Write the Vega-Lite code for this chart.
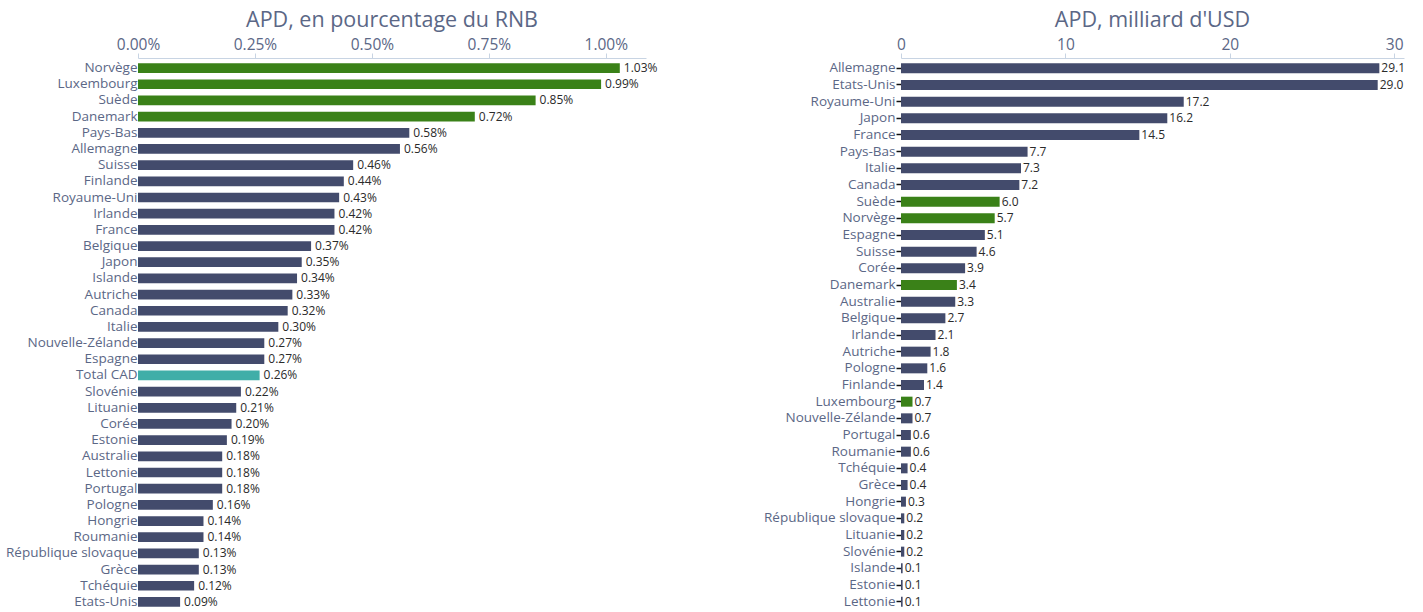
{
  "$schema": "https://vega.github.io/schema/vega-lite/v6.json",
  "padding": {"left": 5, "top": 9, "right": 5, "bottom": 0},
  "background": "white",
  "bounds": "flush",
  "spacing": 255,
  "config": {
    "font": "Open Sans",
    "view": {"stroke": null},
    "axis": {"labelFont": "Open Sans", "grid": false, "title": null},
    "title": {"font": "Open Sans", "fontSize": 21.5, "fontWeight": "normal", "color": "#5b6786", "anchor": "middle"}
  },
  "datasets": {
    "pct": [
      {"pays": "Norvège", "valeur": 0.0103, "groupe": "vert"},
      {"pays": "Luxembourg", "valeur": 0.0099, "groupe": "vert"},
      {"pays": "Suède", "valeur": 0.0085, "groupe": "vert"},
      {"pays": "Danemark", "valeur": 0.0072, "groupe": "vert"},
      {"pays": "Pays-Bas", "valeur": 0.0058, "groupe": "autre"},
      {"pays": "Allemagne", "valeur": 0.0056, "groupe": "autre"},
      {"pays": "Suisse", "valeur": 0.0046, "groupe": "autre"},
      {"pays": "Finlande", "valeur": 0.0044, "groupe": "autre"},
      {"pays": "Royaume-Uni", "valeur": 0.0043, "groupe": "autre"},
      {"pays": "Irlande", "valeur": 0.0042, "groupe": "autre"},
      {"pays": "France", "valeur": 0.0042, "groupe": "autre"},
      {"pays": "Belgique", "valeur": 0.0037, "groupe": "autre"},
      {"pays": "Japon", "valeur": 0.0035, "groupe": "autre"},
      {"pays": "Islande", "valeur": 0.0034, "groupe": "autre"},
      {"pays": "Autriche", "valeur": 0.0033, "groupe": "autre"},
      {"pays": "Canada", "valeur": 0.0032, "groupe": "autre"},
      {"pays": "Italie", "valeur": 0.0030, "groupe": "autre"},
      {"pays": "Nouvelle-Zélande", "valeur": 0.0027, "groupe": "autre"},
      {"pays": "Espagne", "valeur": 0.0027, "groupe": "autre"},
      {"pays": "Total CAD", "valeur": 0.0026, "groupe": "cad"},
      {"pays": "Slovénie", "valeur": 0.0022, "groupe": "autre"},
      {"pays": "Lituanie", "valeur": 0.0021, "groupe": "autre"},
      {"pays": "Corée", "valeur": 0.0020, "groupe": "autre"},
      {"pays": "Estonie", "valeur": 0.0019, "groupe": "autre"},
      {"pays": "Australie", "valeur": 0.0018, "groupe": "autre"},
      {"pays": "Lettonie", "valeur": 0.0018, "groupe": "autre"},
      {"pays": "Portugal", "valeur": 0.0018, "groupe": "autre"},
      {"pays": "Pologne", "valeur": 0.0016, "groupe": "autre"},
      {"pays": "Hongrie", "valeur": 0.0014, "groupe": "autre"},
      {"pays": "Roumanie", "valeur": 0.0014, "groupe": "autre"},
      {"pays": "République slovaque", "valeur": 0.0013, "groupe": "autre"},
      {"pays": "Grèce", "valeur": 0.0013, "groupe": "autre"},
      {"pays": "Tchéquie", "valeur": 0.0012, "groupe": "autre"},
      {"pays": "Etats-Unis", "valeur": 0.0009, "groupe": "autre"}
    ],
    "usd": [
      {"pays": "Allemagne", "valeur": 29.1, "groupe": "autre"},
      {"pays": "Etats-Unis", "valeur": 29.0, "groupe": "autre"},
      {"pays": "Royaume-Uni", "valeur": 17.2, "groupe": "autre"},
      {"pays": "Japon", "valeur": 16.2, "groupe": "autre"},
      {"pays": "France", "valeur": 14.5, "groupe": "autre"},
      {"pays": "Pays-Bas", "valeur": 7.7, "groupe": "autre"},
      {"pays": "Italie", "valeur": 7.3, "groupe": "autre"},
      {"pays": "Canada", "valeur": 7.2, "groupe": "autre"},
      {"pays": "Suède", "valeur": 6.0, "groupe": "vert"},
      {"pays": "Norvège", "valeur": 5.7, "groupe": "vert"},
      {"pays": "Espagne", "valeur": 5.1, "groupe": "autre"},
      {"pays": "Suisse", "valeur": 4.6, "groupe": "autre"},
      {"pays": "Corée", "valeur": 3.9, "groupe": "autre"},
      {"pays": "Danemark", "valeur": 3.4, "groupe": "vert"},
      {"pays": "Australie", "valeur": 3.3, "groupe": "autre"},
      {"pays": "Belgique", "valeur": 2.7, "groupe": "autre"},
      {"pays": "Irlande", "valeur": 2.1, "groupe": "autre"},
      {"pays": "Autriche", "valeur": 1.8, "groupe": "autre"},
      {"pays": "Pologne", "valeur": 1.6, "groupe": "autre"},
      {"pays": "Finlande", "valeur": 1.4, "groupe": "autre"},
      {"pays": "Luxembourg", "valeur": 0.7, "groupe": "vert"},
      {"pays": "Nouvelle-Zélande", "valeur": 0.7, "groupe": "autre"},
      {"pays": "Portugal", "valeur": 0.6, "groupe": "autre"},
      {"pays": "Roumanie", "valeur": 0.6, "groupe": "autre"},
      {"pays": "Tchéquie", "valeur": 0.4, "groupe": "autre"},
      {"pays": "Grèce", "valeur": 0.4, "groupe": "autre"},
      {"pays": "Hongrie", "valeur": 0.3, "groupe": "autre"},
      {"pays": "République slovaque", "valeur": 0.2, "groupe": "autre"},
      {"pays": "Lituanie", "valeur": 0.2, "groupe": "autre"},
      {"pays": "Slovénie", "valeur": 0.2, "groupe": "autre"},
      {"pays": "Islande", "valeur": 0.1, "groupe": "autre"},
      {"pays": "Estonie", "valeur": 0.1, "groupe": "autre"},
      {"pays": "Lettonie", "valeur": 0.1, "groupe": "autre"}
    ]
  },
  "hconcat": [
    {
      "width": 508,
      "height": 550,
      "title": {"text": "APD, en pourcentage du RNB", "offset": 6},
      "data": {"name": "pct"},
      "encoding": {
        "y": {
          "field": "pays", "type": "nominal", "sort": null,
          "scale": {"paddingInner": 0.4, "paddingOuter": 0.2},
          "axis": {"ticks": false, "domain": false, "labelPadding": 1, "labelFontSize": 13.5, "labelColor": "#5b6786", "labelLimit": 300}
        },
        "x": {
          "field": "valeur", "type": "quantitative",
          "scale": {"domain": [0, 0.01086], "nice": false, "zero": true},
          "axis": {"orient": "top", "values": [0, 0.0025, 0.005, 0.0075, 0.01], "format": ".2%", "offset": 2, "labelFontSize": 15.5, "labelColor": "#5b6786", "domainColor": "#c8d4e3", "tickColor": "#c8d4e3", "tickSize": 5, "labelPadding": 1, "labelFlush": false}
        }
      },
      "layer": [
        {
          "mark": {"type": "bar"},
          "encoding": {
            "color": {"field": "groupe", "type": "nominal", "scale": {"domain": ["vert", "cad", "autre"], "range": ["#3a8118", "#40aea8", "#434b6c"]}, "legend": null}
          }
        },
        {
          "mark": {"type": "text", "align": "left", "baseline": "middle", "dx": 4, "fontSize": 12, "color": "#2a2a2a"},
          "encoding": {"text": {"field": "valeur", "type": "quantitative", "format": ".2%"}}
        }
      ]
    },
    {
      "width": 503,
      "height": 550,
      "title": {"text": "APD, milliard d'USD", "offset": 6},
      "data": {"name": "usd"},
      "encoding": {
        "y": {
          "field": "pays", "type": "nominal", "sort": null,
          "scale": {"paddingInner": 0.4, "paddingOuter": 0.2},
          "axis": {"ticks": true, "tickColor": "#111111", "tickWidth": 1.5, "tickSize": 5, "domain": false, "labelPadding": 1, "labelFontSize": 13.5, "labelColor": "#5b6786", "labelLimit": 300}
        },
        "x": {
          "field": "valeur", "type": "quantitative",
          "scale": {"domain": [0, 30.6], "nice": false, "zero": true},
          "axis": {"orient": "top", "values": [0, 10, 20, 30], "format": "d", "offset": 2, "labelFontSize": 15.5, "labelColor": "#5b6786", "domainColor": "#c8d4e3", "tickColor": "#c8d4e3", "tickSize": 5, "labelPadding": 1, "labelFlush": false}
        }
      },
      "layer": [
        {
          "mark": {"type": "bar"},
          "encoding": {
            "color": {"field": "groupe", "type": "nominal", "scale": {"domain": ["vert", "cad", "autre"], "range": ["#3a8118", "#40aea8", "#434b6c"]}, "legend": null}
          }
        },
        {
          "mark": {"type": "text", "align": "left", "baseline": "middle", "dx": 2, "fontSize": 12, "color": "#2a2a2a"},
          "encoding": {"text": {"field": "valeur", "type": "quantitative", "format": ".1f"}}
        }
      ]
    }
  ],
  "resolve": {"scale": {"color": "shared"}}
}
